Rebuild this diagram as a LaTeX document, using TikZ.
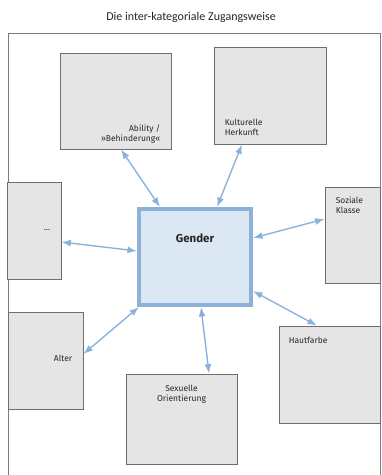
\documentclass[tikz,border=0pt]{standalone}
\usepackage{fontspec}
\setmainfont{Carlito}
\newfontfamily\catfont{Fira Sans}
\usetikzlibrary{
    arrows.meta % for the two-headed connectors
}

\definecolor{catfill}{HTML}{E5E5E5}
\definecolor{catline}{HTML}{6E6E6E}
\definecolor{genderfill}{HTML}{DCE7F4}
\definecolor{genderline}{HTML}{8EB1D9}
\definecolor{linkblue}{HTML}{8BB2DC}
\definecolor{textgray}{HTML}{262626}

\begin{document}
\begin{tikzpicture}[
    x=1pt,y=-1pt,>={Latex[length=9.5pt,width=7pt]},
    category/.style  = {draw=catline,fill=catfill,line width=0.8pt,inner sep=0pt},
    gender box/.style = {draw=genderline,fill=genderfill,line width=4pt,inner sep=0pt,
                        minimum width=112pt,minimum height=96pt},
    cat text/.style  = {inner sep=0pt,text=textgray,font=\catfont\fontsize{8.5}{10.5}\selectfont},
    link/.style      = {<->,draw=linkblue,line width=1.4pt}
]
\useasboundingbox (0,0) rectangle (382,475);

% title and frame

    \node [font=\fontsize{12}{14}\selectfont,text=textgray] (title) at (191,17)
        {Die inter-kategoriale Zugangsweise};
    \draw [catline!90,line width=0.9pt] (8,476) |- (380,33) -- (380,476);

% centre

    \node [gender box] (gender) at (195,257)
        [label={[cat text,anchor=north,yshift=-27pt,font=\catfont\bfseries\fontsize{11.5}{13}\selectfont]north:Gender}] {};

% categories round it

    \node [category,minimum width=111pt,minimum height=96pt] (ability) at (115.5,101)
        [label={[cat text,anchor=south east,align=right,xshift=-11pt,yshift=5.5pt]south east:Ability /\\»Behinderung«}] {};
    \node [category,minimum width=112pt,minimum height=97pt] (herkunft) at (270,95.5)
        [label={[cat text,anchor=north west,align=left,xshift=11pt,yshift=-72pt]north west:Kulturelle\\Herkunft}] {};
    \node [category,minimum width=55pt,minimum height=96pt] (klasse) at (352.5,235)
        [label={[cat text,anchor=north west,align=left,xshift=11pt,yshift=-10pt]north west:Soziale\\Klasse}] {};
    \node [category,minimum width=54pt,minimum height=97pt] (more) at (34,230.5)
        [label={[cat text,anchor=east,xshift=-11pt]east:\dots}] {};
    \node [category,minimum width=101pt,minimum height=97pt] (farbe) at (329.5,374.5)
        [label={[cat text,anchor=north west,xshift=10pt,yshift=-11pt]north west:Hautfarbe}] {};
    \node [category,minimum width=75pt,minimum height=97pt] (alter) at (45.5,360.5)
        [label={[cat text,anchor=east,xshift=-11pt,yshift=2.5pt]east:Alter}] {};
    \node [category,minimum width=111pt,minimum height=90pt] (orient) at (181.5,419)
        [label={[cat text,anchor=north,align=center,yshift=-11pt]north:Sexuelle\\Orientierung}] {};

% connectors

    \draw [link] ([xshift=5.5pt]ability.south)   -- ([xshift=-35pt]gender.north);
    \draw [link] ([xshift=-28pt]herkunft.south)  -- ([xshift=22pt]gender.north);
    \draw [link] ([yshift=16pt]klasse.west)      -- ([yshift=19pt]gender.east);
    \draw [link] ([yshift=-11.5pt]more.east)     -- ([yshift=6pt]gender.west);
    \draw [link] ([xshift=-12.5pt]farbe.north)   -- ([yshift=-34pt]gender.east);
    \draw [link] ([yshift=6.5pt]alter.east)      -- ([xshift=2pt]gender.south west);
    \draw [link] ([xshift=27.5pt]orient.north)   -- ([xshift=6pt]gender.south);

\end{tikzpicture}
\end{document}
